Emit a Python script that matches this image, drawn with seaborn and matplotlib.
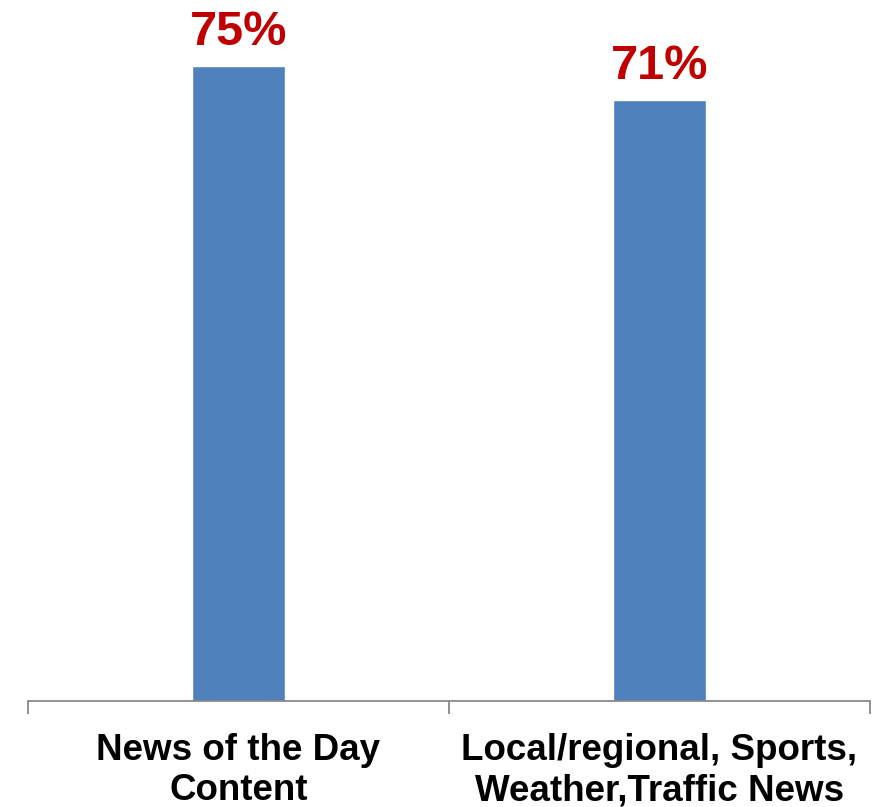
import matplotlib
matplotlib.use("Agg")
import matplotlib.pyplot as plt
import seaborn as sns
import pandas as pd

categories = ["News of the Day\nContent", "Local/regional, Sports,\nWeather,Traffic News"]
values = [75, 71]

df = pd.DataFrame({"category": categories, "value": values})

sns.set_style("white")
plt.rcParams['font.family'] = ['Liberation Sans', 'DejaVu Sans']

fig = plt.figure(figsize=(8.89, 8.07), dpi=100)
ax = fig.add_axes([28/889, 1 - 701/807, (870-28)/889, 677.5/807])

sns.barplot(data=df, x="category", y="value", color="#4F81BD", width=0.22,
            saturation=1, ax=ax)

ax.set_ylim(0, 80)
ax.set_xlim(-0.5, 1.5)
ax.set_xlabel("")
ax.set_ylabel("")
ax.set_yticks([])

for s in ["top", "right", "left"]:
    ax.spines[s].set_visible(False)
ax.spines["bottom"].set_color("#888888")
ax.spines["bottom"].set_linewidth(1.3)

ax.set_xticks([-0.5, 0.5, 1.5])
ax.set_xticklabels([])
ax.tick_params(axis="x", which="major", bottom=True, length=9, width=1.3,
               color="#888888", direction="out")
ax.set_xticks([0, 1], minor=True)
ax.set_xticklabels(categories, minor=True, fontsize=26.5, fontweight="bold",
                   color="black", linespacing=1.2)
ax.tick_params(axis="x", which="minor", bottom=True, length=0, pad=23)

for c in ax.containers:
    ax.bar_label(c, labels=[f"{v:.0f}%" for v in values], padding=8,
                 color="#C00000", fontsize=35, fontweight="bold")

fig.savefig("out.png", dpi=100)
